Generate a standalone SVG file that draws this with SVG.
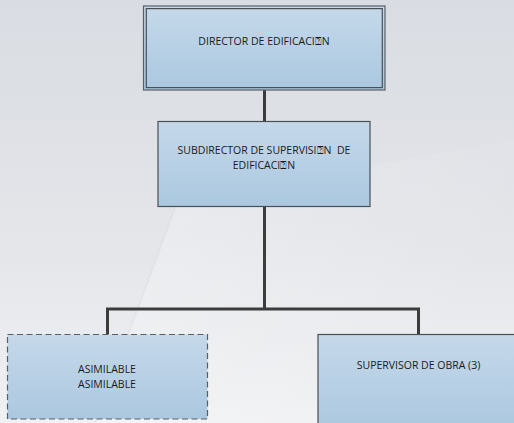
<svg xmlns="http://www.w3.org/2000/svg" width="514" height="423" viewBox="0 0 514 423">
  <defs>
    <linearGradient id="bg" x1="0" y1="0" x2="0" y2="1">
      <stop offset="0" stop-color="#d9dce2"/>
      <stop offset="0.55" stop-color="#e3e5e9"/>
      <stop offset="1" stop-color="#f0f1f3"/>
    </linearGradient>
    <linearGradient id="sheen" x1="0" y1="0" x2="1" y2="0.3">
      <stop offset="0" stop-color="#ffffff" stop-opacity="0.3"/>
      <stop offset="1" stop-color="#ffffff" stop-opacity="0"/>
    </linearGradient>
    <linearGradient id="box" x1="0" y1="0" x2="0" y2="1">
      <stop offset="0" stop-color="#c5d8ea"/>
      <stop offset="1" stop-color="#abc8e0"/>
    </linearGradient>
    <style>
      .node rect { fill: url(#box); }
      .edge { fill: none; stroke: #3c3c3c; stroke-width: 3; }
      .lbl { font-family: "Open Sans", "Liberation Sans", sans-serif; font-size: 10.5px; fill: #1a1a1a; text-anchor: middle; white-space: pre; }
    </style>
  </defs>

  <!-- backdrop -->
  <rect x="0" y="0" width="514" height="423" fill="url(#bg)"/>
  <path d="M178,200 L514,140 L514,423 L95,423 Z" fill="url(#sheen)"/>
  <path d="M178,200 L95,423" stroke="#d4d7dc" stroke-width="2" opacity="0.35" fill="none"/>

  <!-- connectors -->
  <g id="connectors">
    <path class="edge" d="M264.5,90 V121"/>
    <path class="edge" d="M264.5,207 V309 M107.5,334 V309 H418.5 V334"/>
  </g>

  <!-- nodes -->
  <g id="director" class="node">
    <rect x="143.5" y="6" width="241.5" height="84" stroke="#5a5f66" stroke-width="1.2"/>
    <rect x="146.3" y="8.6" width="236" height="79" fill="none" stroke="#4a4f55" stroke-width="1.2"/>
    <text class="lbl" x="264" y="45">DIRECTOR DE EDIFICACI⍰N</text>
  </g>

  <g id="subdirector" class="node">
    <rect x="158" y="121.5" width="212" height="85" stroke="#4a4f55" stroke-width="1.2"/>
    <text class="lbl" x="264" y="153.5" xml:space="preserve">SUBDIRECTOR DE SUPERVISI⍰N  DE</text>
    <text class="lbl" x="264" y="168.5">EDIFICACI⍰N</text>
  </g>

  <g id="asimilable" class="node">
    <rect x="7.5" y="334.5" width="200" height="84.5" stroke="#5a5f66" stroke-width="1.2" stroke-dasharray="6,3.5"/>
    <text class="lbl" x="107" y="373">ASIMILABLE</text>
    <text class="lbl" x="107" y="387.5">ASIMILABLE</text>
  </g>

  <g id="supervisor" class="node">
    <rect x="318" y="334.5" width="200" height="95" stroke="#4a4f55" stroke-width="1.2"/>
    <text class="lbl" x="418.5" y="369">SUPERVISOR DE OBRA (3)</text>
  </g>
</svg>
